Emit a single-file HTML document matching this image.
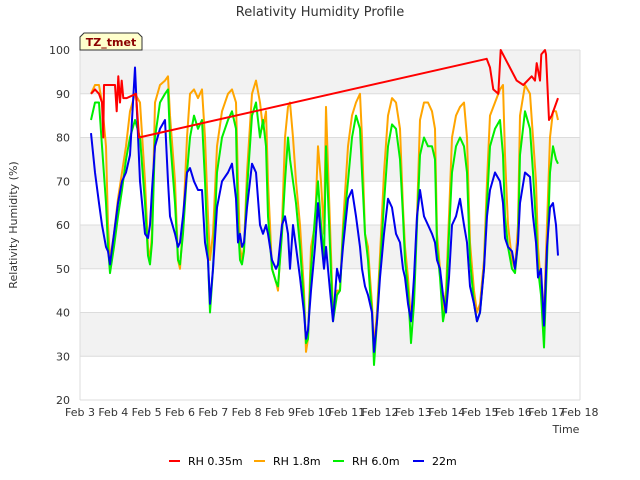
<!DOCTYPE html>
<html><head><meta charset="utf-8"><style>
body{margin:0;background:#fff;}
svg{display:block;font-family:"DejaVu Sans","Liberation Sans",sans-serif;}
</style></head><body>
<svg id="chart" width="640" height="480" viewBox="0 0 640 480">
<text x="320" y="16" text-anchor="middle" font-size="13" fill="#333">Relativity Humidity Profile</text>
<g id="grid"></g>
<g id="series"></g>
<g>
<path d="M80,50 L80,37 L84,33 L138,33 L142,37 L142,50 Z" fill="#ffffcc" stroke="#333" stroke-width="1"/>
<text x="111" y="46" text-anchor="middle" font-size="11" font-weight="bold" fill="#8b0000">TZ_tmet</text>
</g>
<text transform="translate(17,225) rotate(-90)" text-anchor="middle" font-size="11" fill="#333">Relativity Humidity (%)</text>
<text x="566" y="433" text-anchor="middle" font-size="11" fill="#333">Time</text>
<g id="legend"></g>
</svg>
<script>
const yTicks=[20,30,40,50,60,70,80,90,100];
const xTicks=[3,4,5,6,7,8,9,10,11,12,13,14,15,16,17,18];
const times=[3.33,3.45,3.57,3.66,3.78,3.84,3.9,4.02,4.14,4.26,4.38,4.5,4.65,4.8,4.95,5.04,5.1,5.16,5.25,5.4,5.55,5.64,5.7,5.85,5.94,6.0,6.09,6.21,6.3,6.42,6.54,6.66,6.75,6.84,6.9,6.99,7.11,7.26,7.44,7.56,7.68,7.74,7.8,7.86,7.92,8.01,8.16,8.28,8.4,8.49,8.58,8.64,8.76,8.88,8.94,9.06,9.15,9.24,9.3,9.39,9.48,9.6,9.72,9.78,9.84,9.93,10.05,10.14,10.23,10.32,10.38,10.5,10.59,10.71,10.8,10.89,11.04,11.16,11.28,11.4,11.46,11.55,11.64,11.7,11.76,11.82,11.91,12.0,12.12,12.24,12.36,12.48,12.6,12.69,12.75,12.84,12.93,13.02,13.11,13.2,13.32,13.44,13.56,13.65,13.71,13.8,13.89,13.98,14.07,14.16,14.28,14.4,14.52,14.61,14.7,14.82,14.91,15.0,15.12,15.21,15.3,15.45,15.6,15.69,15.75,15.84,15.96,16.05,16.14,16.2,16.35,16.5,16.59,16.68,16.74,16.83,16.92,17.01,17.1,17.19,17.28,17.34];
const rh18=[90,92,92,88,78,60,52,58,66,72,78,86,90,88,70,55,52,58,88,92,93,94,85,70,52,50,60,80,90,91,89,91,80,62,52,58,78,86,90,91,88,70,55,52,55,72,90,93,88,82,86,70,50,47,45,60,80,87,88,80,70,60,45,31,34,55,60,78,70,58,87,60,40,45,45,60,78,85,88,90,80,58,55,48,42,32,40,53,72,85,89,88,82,64,55,48,38,45,62,84,88,88,86,82,58,50,40,45,62,80,85,87,88,80,56,45,40,42,52,70,85,88,91,92,76,60,52,50,60,85,92,90,80,70,55,46,40,60,80,86,86,84];
const rh60=[84,88,88,78,65,55,49,55,62,68,75,80,84,80,65,53,51,56,80,88,90,91,80,65,52,51,58,72,80,85,82,84,70,52,40,50,72,80,84,86,82,60,52,51,54,68,85,88,80,84,78,62,50,47,46,58,70,80,75,70,65,55,42,33,34,50,62,70,60,52,78,55,38,44,45,58,70,80,85,82,72,58,52,45,40,28,38,50,65,78,83,82,75,62,52,45,33,42,60,76,80,78,78,75,55,48,38,42,58,72,78,80,78,72,52,42,38,40,50,65,78,82,84,76,62,55,50,49,56,76,86,82,72,60,50,44,32,52,72,78,75,74];
const rh22=[81,72,65,60,55,54,51,58,65,70,72,76,96,70,58,57,60,68,78,82,84,70,62,58,55,56,62,72,73,70,68,68,56,52,42,50,64,70,72,74,66,56,58,55,56,64,74,72,60,58,60,58,52,50,51,60,62,58,50,60,55,48,40,34,36,45,55,65,57,50,55,45,38,50,47,55,66,68,62,55,50,46,44,42,40,31,38,48,58,66,64,58,56,50,48,42,38,48,62,68,62,60,58,56,52,50,44,40,48,60,62,66,60,56,46,42,38,40,50,62,68,72,70,65,57,55,54,50,56,65,72,71,62,56,48,50,37,55,64,65,60,53];
const redTimes=[3.33,3.45,3.57,3.66,3.7,3.72,4.05,4.1,4.15,4.2,4.25,4.3,4.4,4.68,4.77,15.2,15.3,15.4,15.55,15.62,16.1,16.3,16.55,16.65,16.7,16.8,16.84,16.95,16.98,17.07,17.15,17.34];
const rh035=[90,91,90,88,80,92,92,86,94,88,93,89,89,90,80,98,96,91,90,100,93,92,94,93,97,93,99,100,99,84,85,89];

const L=80,R=580,T=50,B=400;
const xS=d=>L+(d-3)/15*(R-L);
const yS=v=>B-(v-20)/80*(B-T);
const NS="http://www.w3.org/2000/svg";
function mk(tag,attrs,parent){const e=document.createElementNS(NS,tag);for(const k in attrs)e.setAttribute(k,attrs[k]);parent.appendChild(e);return e;}
const grid=document.getElementById('grid');
for(let i=0;i<yTicks.length-1;i++){
  const r=mk('rect',{x:L,y:yS(yTicks[i+1]),width:R-L,height:yS(yTicks[i])-yS(yTicks[i+1]),fill:(i%2===1)?'#f2f2f2':'#ffffff'},grid);
  
  
}
yTicks.forEach(v=>{
  const l=mk('line',{x1:L,x2:R,y1:yS(v),y2:yS(v),stroke:'#dcdcdc','stroke-width':1},grid);
  
  
  const t=mk('text',{x:L-10,y:yS(v)+4,'text-anchor':'end','font-size':11,fill:'#333'},grid);
  t.textContent=v;
  
  
});
mk('line',{x1:L,x2:L,y1:T,y2:B,stroke:'#dcdcdc'},grid);
mk('line',{x1:R,x2:R,y1:T,y2:B,stroke:'#dcdcdc'},grid);
xTicks.forEach(d=>{
  const t=mk('text',{x:xS(d),y:416,'text-anchor':'middle','font-size':11,fill:'#333'},grid);
  t.textContent='Feb '+d;
  
  
});
const sg=document.getElementById('series');
function line(ts,vs,color,name){
  const p=mk('polyline',{points:ts.map((t,i)=>xS(t).toFixed(1)+','+yS(vs[i]).toFixed(1)).join(' '),fill:'none',stroke:color,'stroke-width':2,'stroke-linejoin':'round'},sg);
  
  
}
line(times,rh18,'#ffa500','rh-1.8m-line');
line(times,rh60,'#00ee00','rh-6.0m-line');
line(times,rh22,'#0000ee','rh-22m-line');
line(redTimes,rh035,'#ff0000','rh-0.35m-line');
const lg=document.getElementById('legend');
[['RH 0.35m','#ff0000',169],['RH 1.8m','#ffa500',254],['RH 6.0m','#00ee00',333],['22m','#0000ee',413]].forEach(e=>{
  const g=mk('g',{},lg);
  
  
  mk('line',{x1:e[2],x2:e[2]+11,y1:461,y2:461,stroke:e[1],'stroke-width':2},g);
  const t=mk('text',{x:e[2]+19,y:465,'font-size':11,fill:'#000'},g);
  t.textContent=e[0];
});
</script>
</body></html>
